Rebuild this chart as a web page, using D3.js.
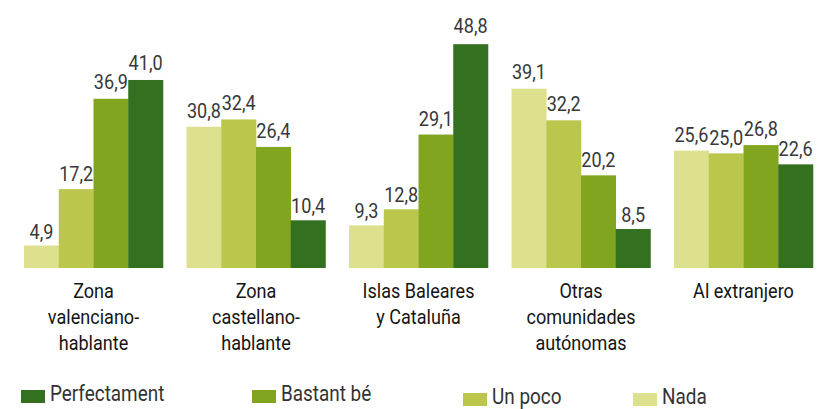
<!DOCTYPE html>
<html>
<head>
<meta charset="utf-8">
<script src="https://cdnjs.cloudflare.com/ajax/libs/d3/7.8.5/d3.min.js"></script>
<style>
  body { margin: 0; background: #fff; }
  text { font-family: Roboto, "Noto Sans", sans-serif; }
</style>
</head>
<body>
<div id="chart"></div>
<script>
// categories (each label split into its lines)
var categories = [
  ["Zona", "valenciano-", "hablante"],
  ["Zona", "castellano-", "hablante"],
  ["Islas Baleares", "y Cataluña"],
  ["Otras", "comunidades", "autónomas"],
  ["Al extranjero"]
];

// series, in bar order (left to right inside a group)
var seriesNames = ["Nada", "Un poco", "Bastant bé", "Perfectament"];
var seriesColors = ["#dde08c", "#bbc74c", "#81a51e", "#33701f"];

var nada         = [4.9, 30.8, 9.3, 39.1, 25.6];
var unPoco       = [17.2, 32.4, 12.8, 32.2, 25.0];
var bastantBe    = [36.9, 26.4, 29.1, 20.2, 26.8];
var perfectament = [41.0, 10.4, 48.8, 8.5, 22.6];

var values = [nada, unPoco, bastantBe, perfectament];

// legend shows the series in reverse order
var legendOrder = [3, 2, 1, 0];

var W = 821, H = 409;
var baseline = 268;
var squeeze = 0.86; // narrow the font to look like a condensed face

var svg = d3.select("#chart").append("svg")
    .attr("width", W)
    .attr("height", H);

var x0 = d3.scaleBand()
    .domain(d3.range(categories.length))
    .range([12.25, 824.75])
    .paddingInner(0.145)
    .paddingOuter(0.0725);

var x1 = d3.scaleBand()
    .domain(d3.range(seriesNames.length))
    .range([0, x0.bandwidth()]);

var y = d3.scaleLinear()
    .domain([0, 50])
    .range([baseline, baseline - 229.3]);

var fmt = function(v) { return d3.format(".1f")(v).replace(".", ","); };

var rows = [];
categories.forEach(function(c, i) {
  values.forEach(function(s, j) {
    rows.push({ g: i, s: j, v: s[i] });
  });
});

var groups = svg.append("g");

groups.selectAll("rect")
  .data(rows)
  .enter().append("rect")
  .attr("x", function(d) { return x0(d.g) + x1(d.s); })
  .attr("y", function(d) { return y(d.v); })
  .attr("width", x1.bandwidth() + 0.3)
  .attr("height", function(d) { return baseline - y(d.v); })
  .attr("fill", function(d) { return seriesColors[d.s]; });

// value labels
groups.selectAll("text.value")
  .data(rows)
  .enter().append("text")
  .attr("class", "value")
  .attr("text-anchor", "middle")
  .attr("transform", function(d) {
    var cx = x0(d.g) + x1(d.s) + x1.bandwidth() / 2;
    var cy = y(d.v) - (6 + d.v * 0.1);
    return "translate(" + cx + "," + cy + ") scale(" + squeeze + ",1)";
  })
  .attr("font-size", "21px")
  .attr("fill", "#383838")
  .text(function(d) { return fmt(d.v); });

// category labels
var cat = svg.append("g").selectAll("text")
  .data(categories)
  .enter().append("text")
  .attr("text-anchor", "middle")
  .attr("transform", function(d, i) {
    return "translate(" + (x0(i) + x0.bandwidth() / 2) + "," + (baseline + 30) + ") scale(" + squeeze + ",1)";
  })
  .attr("font-size", "21px")
  .attr("fill", "#151515");

cat.selectAll("tspan")
  .data(function(d) { return d; })
  .enter().append("tspan")
  .attr("x", 0)
  .attr("dy", function(d, i) { return i === 0 ? 0 : 26; })
  .text(function(d) { return d; });

// legend
var legendX = [21, 252, 463, 633];
var legendY = [390, 390, 393, 393];

var leg = svg.append("g").selectAll("g")
  .data(legendOrder)
  .enter().append("g")
  .attr("transform", function(d, i) { return "translate(" + legendX[i] + "," + legendY[i] + ")"; });

leg.append("rect")
  .attr("width", 24)
  .attr("height", 13)
  .attr("fill", function(d) { return seriesColors[d]; });

leg.append("text")
  .attr("transform", "translate(29,11) scale(" + squeeze + ",1)")
  .attr("font-size", "22px")
  .attr("fill", "#333")
  .text(function(d) { return seriesNames[d]; });
</script>
</body>
</html>
